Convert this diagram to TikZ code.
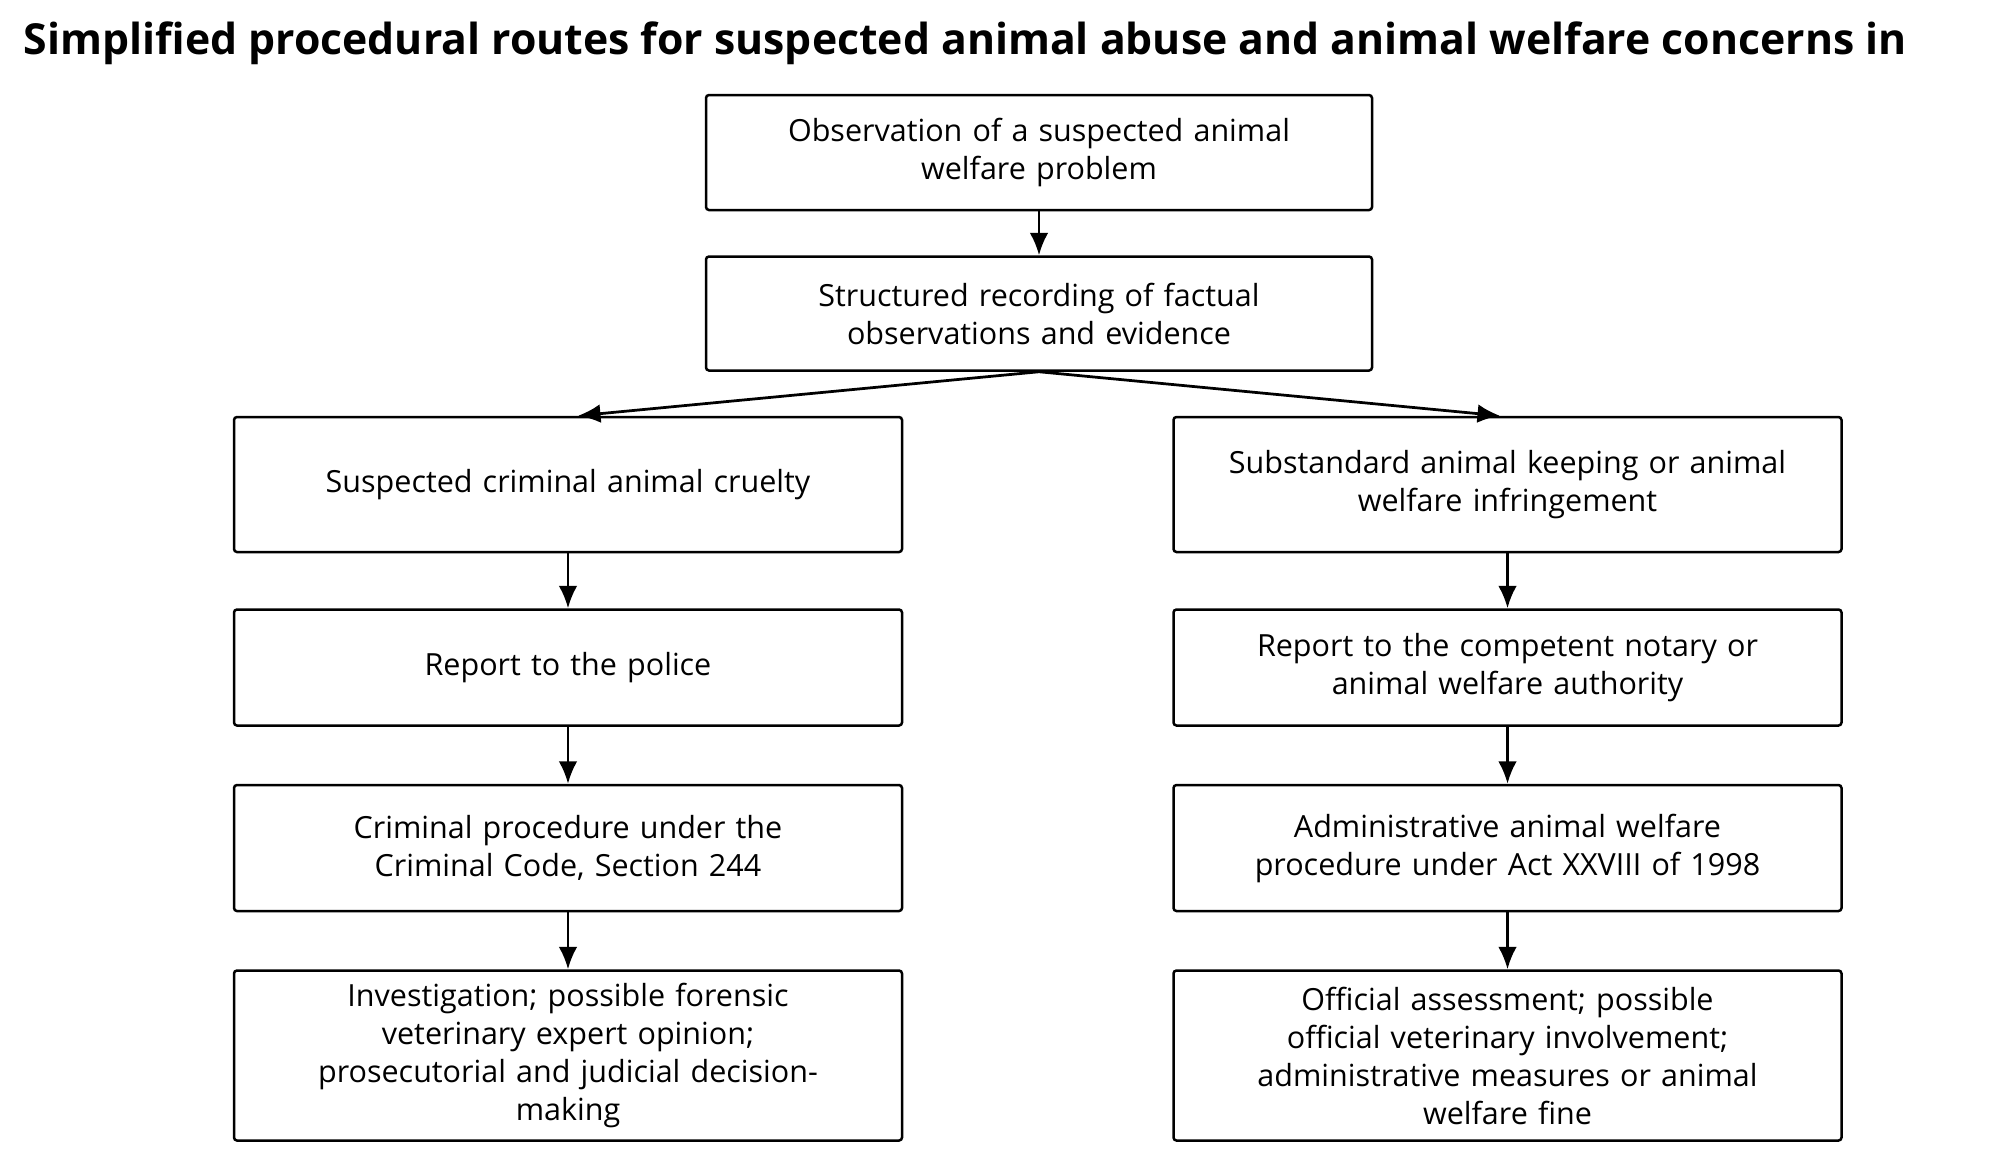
\documentclass[tikz,border=0pt]{standalone}
\usepackage{fontspec}
\setmainfont{Open Sans}
\usetikzlibrary{positioning,arrows.meta}

\tikzset{
  stage/.style={draw=black,line width=1pt,rounded corners=1.2pt,fill=white,
    text width=255pt,align=center,inner sep=2pt,
    font=\fontsize{12.2pt}{15.2pt}\selectfont},
  topbox/.style={stage,minimum width=266.4pt},
  colbox/.style={stage,minimum width=267.2pt}
}

\begin{document}
\begin{tikzpicture}[line width=1.1pt,>={Latex[length=9pt,width=7.5pt]}]

		% page frame
		\useasboundingbox (0,0) rectangle (798pt,-464.4pt);

		% title
		\node[anchor=base west,inner sep=0pt,font=\fontsize{17.1pt}{20pt}\selectfont\bfseries] (title) at (9pt,-21.6pt)
		  {Simplified procedural routes for suspected animal abuse and animal welfare concerns in};

		% common start
		\node[topbox,minimum height=46pt] (obs) at (415.6pt,-61pt) {Observation of a suspected animal\\welfare problem};
		\node[topbox,minimum height=45.6pt,below=17.6pt of obs] (rec) {Structured recording of factual\\observations and evidence};
		\draw[->] (obs) -- (rec);

		% criminal route
		\node[colbox,minimum height=54pt] (cruelty) at (227.2pt,-193.8pt) {Suspected criminal animal cruelty};
		\node[colbox,minimum height=46.4pt,below=22pt of cruelty] (police) {Report to the police};
		\node[colbox,minimum height=50.4pt,below=22.8pt of police] (crimproc) {Criminal procedure under the\\Criminal Code, Section 244};
		\node[colbox,minimum height=68pt,below=22.8pt of crimproc] (invest) {Investigation; possible forensic\\veterinary expert opinion;\\prosecutorial and judicial decision-\\making};
		\draw[->] (cruelty) -- (police);
		\draw[->] (police) -- (crimproc);
		\draw[->] (crimproc) -- (invest);

		% administrative route
		\node[colbox,minimum height=54pt] (keeping) at (603pt,-193.8pt) {Substandard animal keeping or animal\\welfare infringement};
		\node[colbox,minimum height=46.4pt,below=22pt of keeping] (notary) {Report to the competent notary or\\animal welfare authority};
		\node[colbox,minimum height=50.4pt,below=22.8pt of notary] (adminproc) {Administrative animal welfare\\procedure under Act XXVIII of 1998};
		\node[colbox,minimum height=68pt,below=22.8pt of adminproc] (assess) {Official assessment; possible\\official veterinary involvement;\\administrative measures or animal\\welfare fine};
		\draw[->] (keeping) -- (notary);
		\draw[->] (notary) -- (adminproc);
		\draw[->] (adminproc) -- (assess);

		% the split
		\draw[->] (rec.south) -- ([xshift=4pt]cruelty.north);
		\draw[->] (rec.south) -- ([xshift=-3pt]keeping.north);

\end{tikzpicture}
\end{document}
